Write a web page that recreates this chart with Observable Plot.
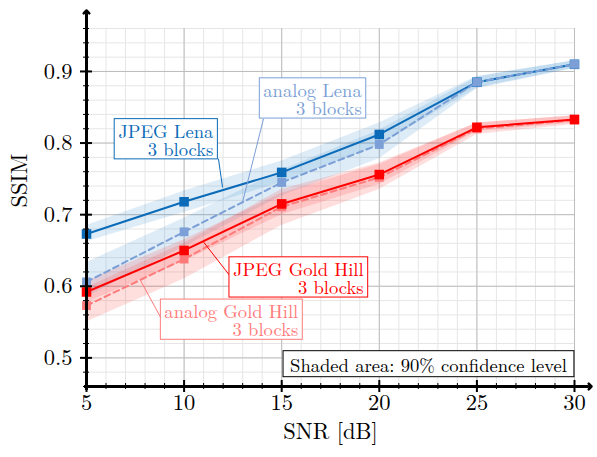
<!DOCTYPE html>
<html><head><meta charset="utf-8">
<script src="https://cdn.jsdelivr.net/npm/d3@7"></script>
<script src="https://cdn.jsdelivr.net/npm/@observablehq/plot@0.6"></script>
<style>
body{margin:0;background:#fff} svg{display:block}
#chart svg text { font-family: 'Latin Modern Roman', 'Liberation Serif', serif !important; }
</style>
</head><body><div id="chart"></div>
<script>
// ---- data ----
const snr = [5, 10, 15, 20, 25, 30];
const jpegLena      = [0.673, 0.718, 0.759, 0.812, 0.885, 0.910];
const jpegLenaLo    = [0.662, 0.703, 0.745, 0.797, 0.877, 0.905];
const jpegLenaHi    = [0.685, 0.733, 0.775, 0.828, 0.893, 0.915];
const analogLena    = [0.606, 0.676, 0.745, 0.798, 0.885, 0.910];
const analogLenaLo  = [0.585, 0.655, 0.726, 0.778, 0.876, 0.904];
const analogLenaHi  = [0.633, 0.695, 0.762, 0.818, 0.892, 0.915];
const jpegGH        = [0.592, 0.650, 0.715, 0.756, 0.822, 0.833];
const jpegGHLo      = [0.577, 0.635, 0.700, 0.742, 0.816, 0.828];
const jpegGHHi      = [0.607, 0.665, 0.730, 0.770, 0.828, 0.838];
const analogGH      = [0.573, 0.638, 0.711, 0.752, 0.820, 0.832];
const analogGHLo    = [0.550, 0.610, 0.685, 0.735, 0.812, 0.826];
const analogGHHi    = [0.598, 0.660, 0.735, 0.772, 0.828, 0.838];

const xTicks = [5, 10, 15, 20, 25, 30];
const yTicks = [0.5, 0.6, 0.7, 0.8, 0.9];
const xDomain = [5, 30];
const yDomain = [0.46, 0.96];
const minorX = d3.range(5, 30.5, 1);
const minorY = d3.range(0.46, 0.9601, 0.02);

const colors = {jl: "#0b6bb8", al: "#7b9fd6", jg: "#ff0000", ag: "#ff7b7b"};
const FONT = "'Latin Modern Roman', 'Liberation Serif', serif";

// annotation labels (text anchor + leader line, in data units)
const annLabels = ["JPEG Lena\n3 blocks", "analog Lena\n3 blocks", "JPEG Gold Hill\n3 blocks", "analog Gold Hill\n3 blocks"];
const annColors = [colors.jl, colors.al, colors.jg, colors.ag];
const annTextX  = [11.5, 19.1, 19.2, 15.85];
const annTextY  = [0.803, 0.860, 0.610, 0.551];
const annLineX1 = [11.76, 14.07, 12.48, 8.89];
const annLineY1 = [0.778, 0.834, 0.610, 0.552];
const annLineX2 = [11.97, 12.99, 10.99, 7.77];
const annLineY2 = [0.738, 0.717, 0.662, 0.608];
const noteText = "Shaded area: 90% confidence level";
const noteX = 22.52, noteY = 0.489;

// ---- build tables ----
const series = [
  {name: "JPEG Lena", color: colors.jl, dash: null, r: 5.4, mean: jpegLena, lo: jpegLenaLo, hi: jpegLenaHi, band: "#2f86cc"},
  {name: "analog Lena", color: colors.al, dash: "6,4", r: 5.0, mean: analogLena, lo: analogLenaLo, hi: analogLenaHi, band: "#2f86cc"},
  {name: "analog Gold Hill", color: colors.ag, dash: "6,4", r: 5.0, mean: analogGH, lo: analogGHLo, hi: analogGHHi, band: "#ff3030"},
  {name: "JPEG Gold Hill", color: colors.jg, dash: null, r: 5.4, mean: jpegGH, lo: jpegGHLo, hi: jpegGHHi, band: "#ff3030"}
];
const rowsOf = s => snr.map((x, i) => ({x, y: s.mean[i], lo: s.lo[i], hi: s.hi[i]}));
const anns = annLabels.map((t, i) => ({t, c: annColors[i], tx: annTextX[i], ty: annTextY[i],
  x1: annLineX1[i], y1: annLineY1[i], x2: annLineX2[i], y2: annLineY2[i]}));

const marks = [
  Plot.ruleX(minorX, {stroke: "#e6e6e6", strokeWidth: 1}),
  Plot.ruleY(minorY, {stroke: "#e6e6e6", strokeWidth: 1}),
  Plot.ruleX(xTicks, {stroke: "#bdbdbd", strokeWidth: 1}),
  Plot.ruleY(yTicks, {stroke: "#bdbdbd", strokeWidth: 1}),
];
for (const s of series) {
  marks.push(Plot.areaY(rowsOf(s), {x: "x", y1: "lo", y2: "hi", fill: s.band, fillOpacity: 0.16}));
}
for (const s of series) {
  const rows = rowsOf(s);
  marks.push(Plot.line(rows, {x: "x", y: "y", stroke: s.color, strokeWidth: 2, strokeDasharray: s.dash}));
  marks.push(Plot.dot(rows, {x: "x", y: "y", symbol: "square", r: s.r, fill: s.color, stroke: "none"}));
}
marks.push(
  Plot.link(anns, {x1: "x1", y1: "y1", x2: "x2", y2: "y2", stroke: "c", strokeWidth: 1}),
  Plot.text(anns, {x: "tx", y: "ty", text: "t", fill: "c", textAnchor: "end", lineAnchor: "middle",
    fontSize: 18.6, lineHeight: 0.98, fontFamily: FONT}),
  Plot.text([noteText], {x: noteX, y: noteY, text: d => d, fill: "black", fontSize: 18.6, fontFamily: FONT}),
  // axes
  Plot.ruleX(minorX, {y1: yDomain[0], y2: yDomain[0], insetTop: -3, insetBottom: -3, stroke: "black", strokeWidth: 1}),
  Plot.ruleY(minorY, {x1: xDomain[0], x2: xDomain[0], insetLeft: -3, insetRight: -3, stroke: "black", strokeWidth: 1}),
  Plot.ruleX(xTicks, {y1: yDomain[0], y2: yDomain[0], insetTop: -6, insetBottom: -6, stroke: "black", strokeWidth: 2}),
  Plot.ruleY(yTicks, {x1: xDomain[0], x2: xDomain[0], insetLeft: -6, insetRight: -6, stroke: "black", strokeWidth: 2}),
  Plot.ruleY([yDomain[0]], {insetLeft: -2, insetRight: -14, stroke: "black", strokeWidth: 3}),
  Plot.ruleX([xDomain[0]], {insetTop: -14, insetBottom: -4, stroke: "black", strokeWidth: 3}),
  Plot.vector([0], {x: xDomain[1], y: yDomain[0], dx: 17, length: 14, rotate: 90, anchor: "end", stroke: "black", strokeWidth: 2.5}),
  Plot.vector([0], {x: xDomain[0], y: yDomain[1], dy: -18, length: 14, rotate: 0, anchor: "end", stroke: "black", strokeWidth: 2.5}),
  Plot.text(xTicks, {x: d => d, frameAnchor: "bottom", dy: 23, text: d => String(d), fontSize: 22.5, fill: "black", fontFamily: FONT}),
  Plot.text(yTicks, {y: d => d, frameAnchor: "left", dx: -14, textAnchor: "end", text: d => d.toFixed(1), fontSize: 22.5, fill: "black", fontFamily: FONT}),
  Plot.text(["SNR [dB]"], {frameAnchor: "bottom", dy: 52, text: d => d, fontSize: 22.5, fill: "black", fontFamily: FONT}),
  Plot.text(["SSIM"], {frameAnchor: "left", dx: -67, rotate: -90, text: d => d, fontSize: 22.5, fill: "black", fontFamily: FONT})
);

const plot = Plot.plot({
  width: 597, height: 457,
  marginLeft: 86, marginRight: 23, marginTop: 28, marginBottom: 71,
  x: {domain: xDomain, axis: null},
  y: {domain: yDomain, axis: null},
  style: {fontFamily: FONT, fontSize: "21px", background: "white", overflow: "visible"},
  marks
});
document.getElementById("chart").appendChild(plot);

// boxes behind annotation texts (matched by their content)
const firstLines = annLabels.map(t => t.split("\n")[0]);
d3.select(plot).selectAll("text").each(function () {
  const content = this.textContent;
  let stroke = null, padX = 4, padY = -2;
  if (firstLines.some(f => content.startsWith(f))) stroke = this.getAttribute("fill") || this.parentNode.getAttribute("fill");
  else if (content === noteText) { stroke = "black"; padX = 7; padY = 0; }
  if (!stroke) return;
  const b = this.getBBox();
  d3.select(this.parentNode).insert("rect", () => this)
    .attr("transform", this.getAttribute("transform"))
    .attr("x", b.x - padX).attr("y", b.y - padY)
    .attr("width", b.width + 2 * padX).attr("height", b.height + 2 * padY)
    .attr("fill", "white").attr("stroke", stroke).attr("stroke-width", 1);
});
</script></body></html>
